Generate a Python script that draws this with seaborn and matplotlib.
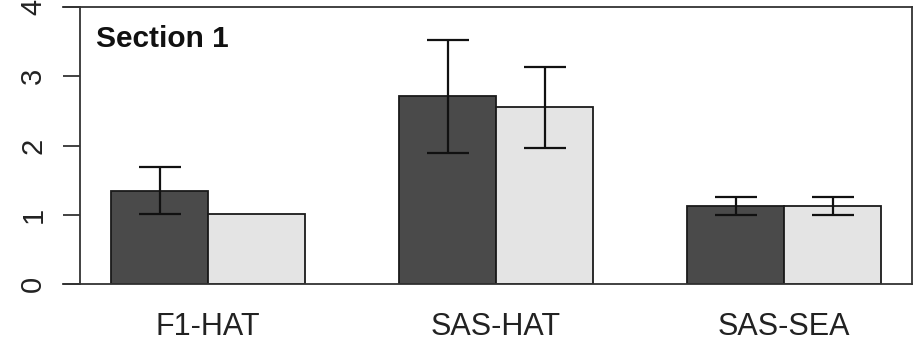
import pandas as pd
import matplotlib.pyplot as plt
import seaborn as sns

# values
groups = ["F1-HAT", "SAS-HAT", "SAS-SEA"]
series = ["A", "B"]
means_a = [1.35, 2.71, 1.12]
means_b = [1.01, 2.55, 1.12]
err_a = [0.34, 0.82, 0.13]
err_b = [None, 0.59, 0.13]
yticks = [0, 1, 2, 3, 4]

df = pd.DataFrame({
    "group": groups * 2,
    "series": [series[0]] * 3 + [series[1]] * 3,
    "mean": means_a + means_b,
})

sns.set_style("white")
plt.rcParams["font.family"] = ["Liberation Sans", "DejaVu Sans"]

fig = plt.figure(figsize=(9.24, 3.43), dpi=100)
ax = fig.add_axes([0.0682, 0.172, 0.919, 0.8076])

sns.barplot(data=df, x="group", y="mean", hue="series", order=groups,
            hue_order=series, palette=["#4a4a4a", "#e4e4e4"], width=0.672,
            edgecolor="#1a1a1a", linewidth=1.3, legend=False, ax=ax)

# error bars on top of the bars
for cont, errs in zip(ax.containers, [err_a, err_b]):
    for bar, e in zip(cont, errs):
        if e is None:
            continue
        cx = bar.get_x() + bar.get_width() / 2
        ax.errorbar(cx, bar.get_height(), yerr=e, color="#111111",
                    elinewidth=1.6, capthick=1.6, capsize=15)

ax.set_xlim(-0.503, 2.444)
ax.set_ylim(0, 4)
ax.set_yticks(yticks)
ax.set_yticklabels([str(t) for t in yticks])
ax.set_xlabel("")
ax.set_ylabel("")

for s in ax.spines.values():
    s.set_visible(True)
    s.set_color("#333333")
    s.set_linewidth(1.3)
ax.spines["left"].set_position(("axes", 0.02))

ax.tick_params(axis="y", direction="out", length=12.5, width=1.3,
               color="#333333", labelsize=21, pad=11, left=True,
               labelrotation=90, labelcolor="#222222")
ax.tick_params(axis="x", length=0, labelsize=22, pad=20, labelcolor="#222222")
for lab in ax.get_yticklabels():
    lab.set_verticalalignment("center")

ax.text(0.039, 0.885, "Section 1", transform=ax.transAxes, fontsize=21.5,
        fontweight="bold", va="center", ha="left", color="#111111")

fig.savefig("out.png", dpi=100)
